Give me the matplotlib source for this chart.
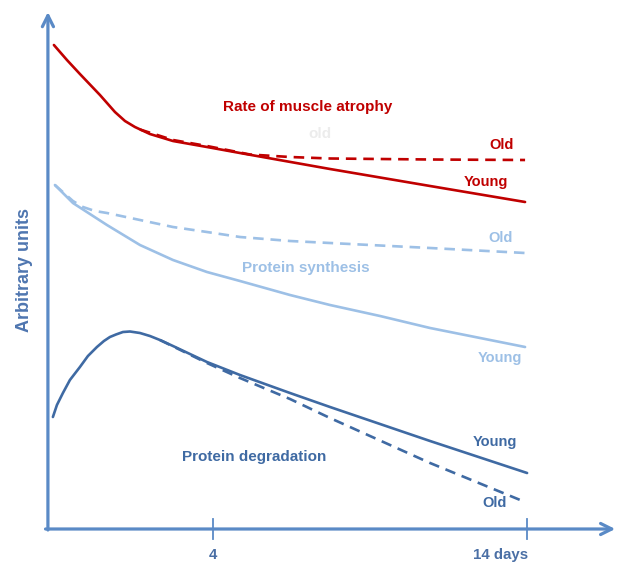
import matplotlib
matplotlib.use("Agg")
import matplotlib.pyplot as plt

# schematic units: x = time (axis origin at 0, "14 days" tick at 100), y = arbitrary units
TICK_POS = [34.4, 100]
TICK_LABELS = ["4", "14 days"]

atrophy_young_x = [1.25, 3.97, 6.68, 10.86, 13.99, 16.08, 18.16, 21.29, 26.10, 33.19, 40.08, 58.87, 79.75, 99.58]
atrophy_young_y = [96.8, 93.8, 91.0, 86.8, 83.4, 81.6, 80.4, 79.0, 77.6, 76.4, 75.2, 72.0, 68.6, 65.4]
atrophy_old_x = [19.21, 26.10, 33.19, 42.17, 50.52, 58.87, 79.75, 99.58]
atrophy_old_y = [79.9, 77.8, 76.6, 74.9, 74.4, 74.1, 73.9, 73.8]

synth_young_x = [1.46, 5.22, 8.77, 12.32, 19.21, 26.10, 33.19, 40.08, 50.52, 58.87, 69.31, 79.75, 90.19, 99.58]
synth_young_y = [68.8, 65.2, 63.0, 60.8, 56.8, 53.8, 51.4, 49.6, 46.8, 44.8, 42.6, 40.2, 38.2, 36.4]
synth_old_x = [1.46, 5.22, 7.31, 9.81, 12.32, 19.21, 26.10, 33.19, 40.08, 50.52, 58.87, 79.75, 99.58]
synth_old_y = [68.8, 65.6, 64.4, 63.6, 63.2, 61.8, 60.4, 59.4, 58.4, 57.6, 57.2, 56.2, 55.2]

degr_young_x = [1.04, 1.88, 3.13, 4.59, 6.68, 8.35, 10.23, 11.69, 12.94, 14.20, 15.66, 17.12,
                19.21, 21.29, 23.38, 26.10, 33.19, 40.08, 50.52, 58.87, 79.75, 100]
degr_young_y = [22.4, 24.8, 27.2, 29.8, 32.4, 34.6, 36.4, 37.6, 38.4, 38.9, 39.4, 39.5,
                39.2, 38.6, 37.8, 36.6, 33.4, 30.8, 27.2, 24.4, 17.6, 11.2]
degr_old_x = [23.38, 33.19, 40.08, 50.52, 58.87, 79.75, 99.58]
degr_old_y = [37.8, 33.2, 30.2, 26.0, 22.2, 13.2, 5.4]

RED = "#C00000"
LIGHT = "#9DC0E6"
DARK = "#3F6AA3"
AXIS = "#5A8AC6"
FONT = "Liberation Sans"

fig = plt.figure(figsize=(6.21, 5.67), dpi=100)
ax = fig.add_axes([0, 0, 1, 1])
ax.set_xlim(-10.0, 119.6)
ax.set_ylim(-7.6, 105.8)
ax.axis("off")

lw = 1.9
dash = (0, (4, 2.6))
kw = dict(lw=lw, solid_joinstyle="round", solid_capstyle="round")
ax.plot(atrophy_young_x, atrophy_young_y, color=RED, **kw)
ax.plot(atrophy_old_x, atrophy_old_y, color=RED, lw=lw, linestyle=dash)
ax.plot(synth_young_x, synth_young_y, color=LIGHT, **kw)
ax.plot(synth_old_x, synth_old_y, color=LIGHT, lw=lw, linestyle=dash)
ax.plot(degr_young_x, degr_young_y, color=DARK, **kw)
ax.plot(degr_old_x, degr_old_y, color=DARK, lw=lw, linestyle=dash)

# axes with arrow heads
arrow = dict(arrowstyle="->,head_length=0.8,head_width=0.4", color=AXIS, lw=2.3,
             shrinkA=0, shrinkB=0)
ax.annotate("", xy=(0, 103.4), xytext=(0, -0.2), arrowprops=arrow)
ax.annotate("", xy=(118.4, 0), xytext=(-0.5, 0), arrowprops=arrow)
for xp in TICK_POS:
    ax.plot([xp, xp], [-2, 2], color=AXIS, lw=1.3)
ax.text(TICK_POS[0], -5.2, TICK_LABELS[0], ha="center", va="center", color="#4A6FA5",
        fontsize=10.8, fontweight="bold", family=FONT)
ax.text(TICK_POS[1] + 0.2, -5.2, TICK_LABELS[1], ha="right", va="center", color="#4A6FA5",
        fontsize=10.8, fontweight="bold", family=FONT)
ax.text(-4.8, 51.8, "Arbitrary units", rotation=90, ha="center", va="center",
        color="#4F76B0", fontsize=13, fontweight="bold", family=FONT)

def lbl(x, y, s, c, size=11):
    ax.text(x, y, s, ha="center", va="center", color=c, fontsize=size,
            fontweight="bold", family=FONT)

lbl(54.3, 84.4, "Rate of muscle atrophy", RED)
lbl(56.8, 79.0, "old", "#ECECEC")
lbl(94.6, 76.8, "Old", RED, 10.5)
lbl(91.5, 69.4, "Young", RED, 10.5)
lbl(94.4, 58.2, "Old", LIGHT, 10.5)
lbl(53.9, 52.2, "Protein synthesis", LIGHT)
lbl(94.4, 34.2, "Young", LIGHT, 10.5)
lbl(43.0, 14.4, "Protein degradation", DARK)
lbl(93.3, 17.4, "Young", DARK, 10.5)
lbl(93.2, 5.2, "Old", DARK, 10.5)

fig.savefig("out.png", dpi=100, facecolor="white")
